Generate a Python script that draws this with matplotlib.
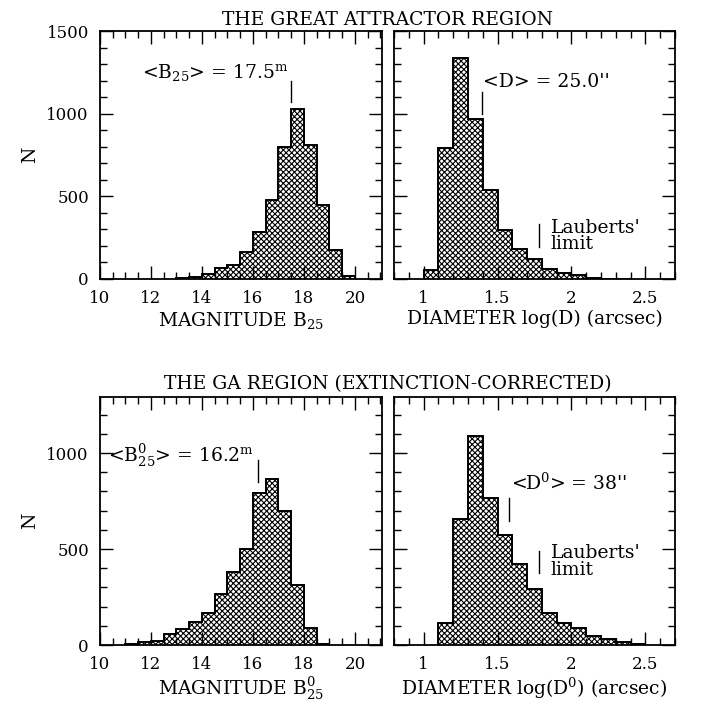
import numpy as np
import matplotlib
matplotlib.use("Agg")
from matplotlib import pyplot as plt
from matplotlib.ticker import MultipleLocator

plt.rcParams['font.family'] = 'DejaVu Serif'
plt.rcParams['mathtext.fontset'] = 'dejavuserif'
plt.rcParams['hatch.linewidth'] = 0.8

# magnitude bins (width 0.5) and diameter bins (width 0.1)
mag_edges_ga = [13.0, 13.5, 14.0, 14.5, 15.0, 15.5, 16.0, 16.5, 17.0, 17.5, 18.0, 18.5, 19.0, 19.5, 20.0]
mag_counts_ga = [7, 10, 30, 65, 85, 161, 286, 476, 800, 1026, 810, 445, 175, 20]

diam_edges_ga = [1.0, 1.1, 1.2, 1.3, 1.4, 1.5, 1.6, 1.7, 1.8, 1.9, 2.0, 2.1, 2.2, 2.3, 2.4]
diam_counts_ga = [54, 790, 1335, 968, 538, 296, 179, 123, 62, 34, 22, 4, 3, 3]

mag_edges_corr = [11.0, 11.5, 12.0, 12.5, 13.0, 13.5, 14.0, 14.5, 15.0, 15.5, 16.0, 16.5, 17.0, 17.5, 18.0, 18.5, 19.0]
mag_counts_corr = [3, 17, 21, 57, 82, 122, 165, 266, 382, 502, 790, 865, 700, 312, 87, 3]

diam_edges_corr = [1.1, 1.2, 1.3, 1.4, 1.5, 1.6, 1.7, 1.8, 1.9, 2.0, 2.1, 2.2, 2.3, 2.4, 2.5]
diam_counts_corr = [113, 655, 1089, 764, 571, 422, 290, 165, 116, 90, 49, 31, 14, 3]

mean_mag_ga = 17.5
mean_mag_corr = 16.2
mean_diam_ga = np.log10(25.0)
mean_diam_corr = np.log10(38.0)
lauberts_limit = np.log10(60.0)

W, H = 702, 704
fig = plt.figure(figsize=(W / 100, H / 100), dpi=100)


def make_axes(x0, y0, x1, y1):
    return fig.add_axes([x0 / W, 1 - y1 / H, (x1 - x0) / W, (y1 - y0) / H])


def style(ax, xlim, ylim, xmaj, xmin, ylabels=True):
    ax.set_xlim(*xlim)
    ax.set_ylim(*ylim)
    ax.xaxis.set_major_locator(MultipleLocator(xmaj))
    ax.xaxis.set_minor_locator(MultipleLocator(xmin))
    ax.yaxis.set_major_locator(MultipleLocator(500))
    ax.yaxis.set_minor_locator(MultipleLocator(100))
    ax.tick_params(which='both', direction='in', top=True, right=True, labelsize=12, pad=8)
    ax.tick_params(which='major', length=9.5, width=1.0)
    ax.tick_params(which='minor', length=5, width=1.0)
    if not ylabels:
        ax.set_yticklabels([])
    for s in ax.spines.values():
        s.set_linewidth(1.3)


def hist(ax, counts, edges):
    ax.stairs(counts, edges, fill=True, facecolor='white', edgecolor='black',
              hatch='xxxxxx', linewidth=1.2)
    ax.stairs(counts, edges, fill=False, edgecolor='black', linewidth=1.3)


def fmt_diam(x, pos):
    return '%g' % x


ax1 = make_axes(100, 31, 382, 279)
ax2 = make_axes(394, 31, 675, 279)
ax3 = make_axes(100, 397, 382, 645)
ax4 = make_axes(394, 397, 675, 645)

hist(ax1, mag_counts_ga, mag_edges_ga)
hist(ax2, diam_counts_ga, diam_edges_ga)
hist(ax3, mag_counts_corr, mag_edges_corr)
hist(ax4, diam_counts_corr, diam_edges_corr)

style(ax1, (10, 21.06), (0, 1500), 2, 0.5)
style(ax2, (0.8, 2.7), (0, 1500), 0.5, 0.1, ylabels=False)
style(ax3, (10, 21.06), (0, 1292), 2, 0.5)
style(ax4, (0.8, 2.7), (0, 1292), 0.5, 0.1, ylabels=False)
for ax in (ax2, ax4):
    ax.xaxis.set_major_formatter(plt.FuncFormatter(fmt_diam))

lab = dict(fontsize=13.5)
ax1.set_xlabel(r'MAGNITUDE B$_{25}$', labelpad=2, **lab)
ax2.set_xlabel('DIAMETER log(D) (arcsec)', labelpad=2, **lab)
ax3.set_xlabel(r'MAGNITUDE B$^0_{25}$', labelpad=2, **lab)
ax4.set_xlabel(r'DIAMETER log(D$^0$) (arcsec)', labelpad=2, **lab)

fig.text(30 / W, 1 - 155 / H, 'N', rotation=90, ha='center', va='center', **lab)
fig.text(30 / W, 1 - 521 / H, 'N', rotation=90, ha='center', va='center', **lab)

fig.text(388 / W, 1 - 25 / H, 'THE GREAT ATTRACTOR REGION', ha='center', va='baseline', **lab)
fig.text(388 / W, 1 - 389 / H, 'THE GA REGION (EXTINCTION-CORRECTED)', ha='center', va='baseline', **lab)

# mean values and the Lauberts' diameter limit
ax1.plot([mean_mag_ga, mean_mag_ga], [1070, 1200], color='black', lw=1)
ax1.text(17.37, 1216, r'<B$_{25}$> = 17.5$^{\rm m}$', ha='right', va='baseline', **lab)

ax2.plot([mean_diam_ga, mean_diam_ga], [998, 1133], color='black', lw=1)
ax2.text(1.40, 1163, "<D> = 25.0''", ha='left', va='baseline', **lab)
ax2.plot([lauberts_limit, lauberts_limit], [195, 333], color='black', lw=1)
ax2.text(1.859, 180, "Lauberts'\nlimit", ha='left', va='baseline', linespacing=0.85, **lab)

ax3.plot([mean_mag_corr, mean_mag_corr], [847, 963], color='black', lw=1)
ax3.text(16.01, 953, r'<B$^0_{25}$> = 16.2$^{\rm m}$', ha='right', va='baseline', **lab)

ax4.plot([mean_diam_corr, mean_diam_corr], [647, 764], color='black', lw=1)
ax4.text(1.588, 807, "<D$^0$> = 38''", ha='left', va='baseline', **lab)
ax4.plot([lauberts_limit, lauberts_limit], [377, 491], color='black', lw=1)
ax4.text(1.859, 365, "Lauberts'\nlimit", ha='left', va='baseline', linespacing=0.9, **lab)

fig.savefig('out.png', dpi=100)
